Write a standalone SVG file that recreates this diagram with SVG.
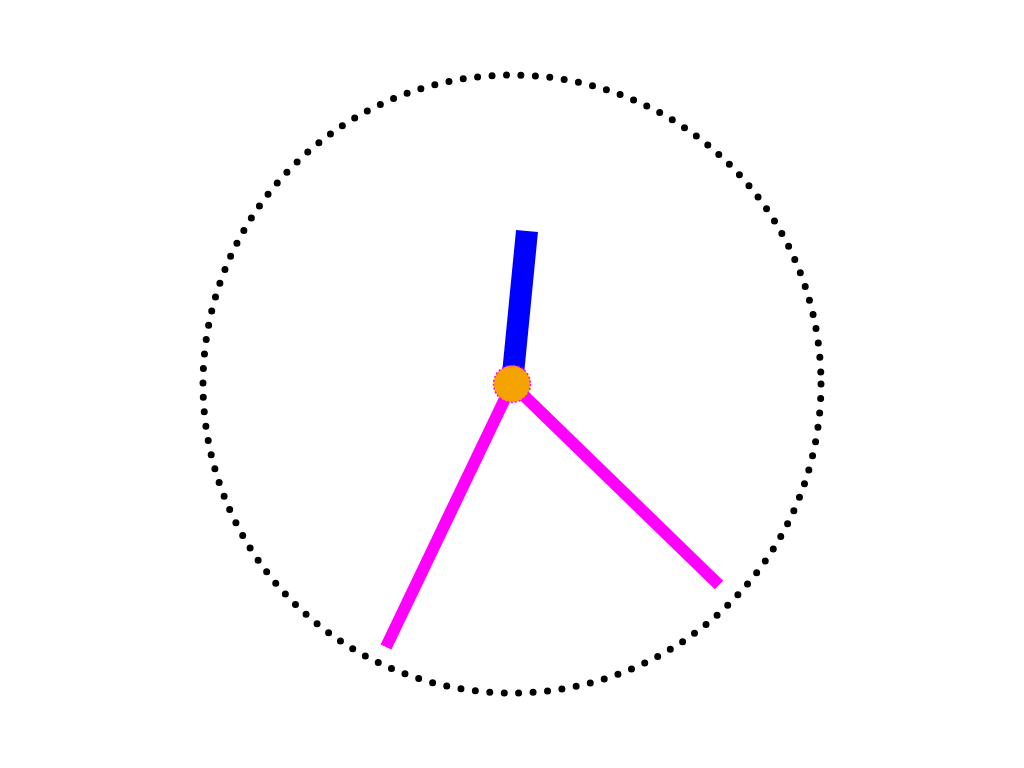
<svg xmlns="http://www.w3.org/2000/svg" width="1024" height="768" viewBox="0 0 1024 768">
<style>
.dial{fill:none;stroke:#000;stroke-width:7;stroke-dasharray:0 14.5;stroke-linecap:round}
.hand{stroke-linecap:butt}
</style>
<rect width="1024" height="768" fill="#fff"/>
<g id="dial"><circle class="dial" cx="512" cy="384" r="309"/></g>
<g id="connectors">
<line class="hand" x1="512" y1="384" x2="527" y2="231" stroke="#0000ff" stroke-width="22"/>
<line class="hand" x1="512" y1="384" x2="386" y2="647" stroke="#ff00ff" stroke-width="12"/>
<line class="hand" x1="512" y1="384" x2="719" y2="585" stroke="#ff00ff" stroke-width="12"/>
</g>
<g id="hub"><circle cx="512" cy="384" r="18.5" fill="#f5a300" stroke="#ff00ff" stroke-width="1.5" stroke-dasharray="2 2"/></g>
</svg>
